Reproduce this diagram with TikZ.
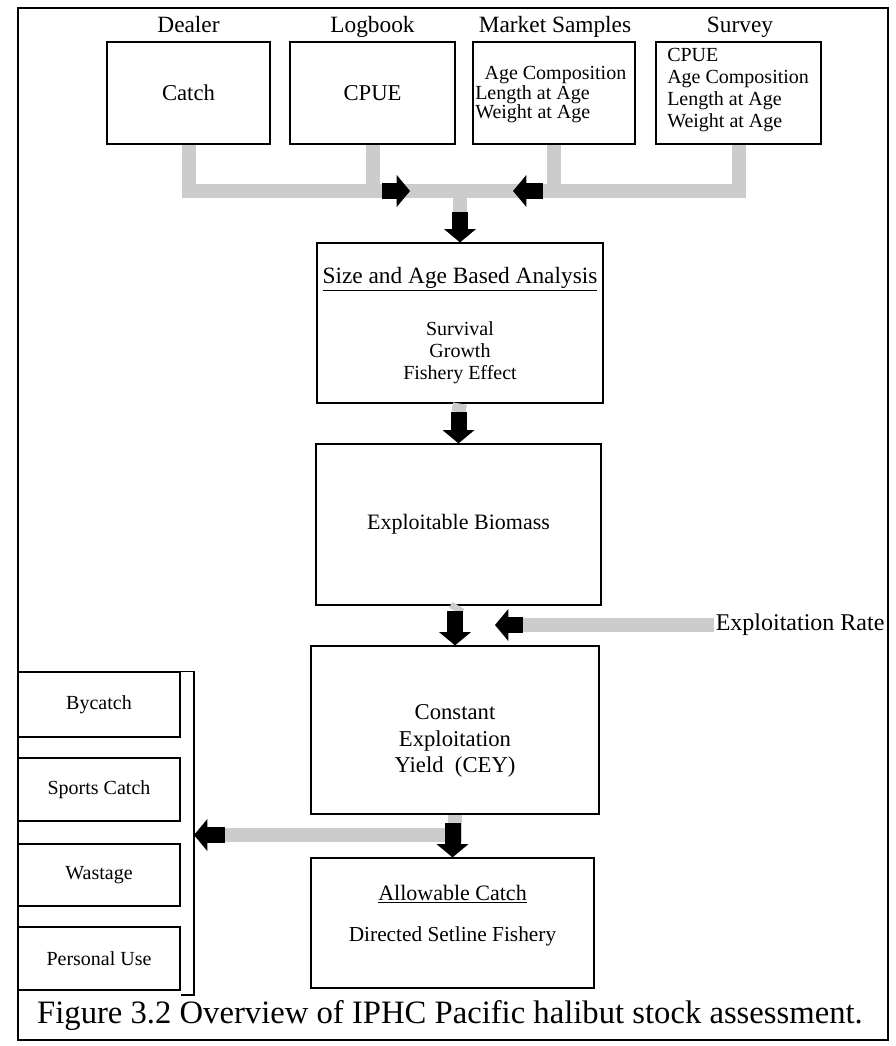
\documentclass[tikz,border=0pt]{standalone}
\usepackage{fontspec}
\setmainfont{Liberation Serif}
\usetikzlibrary{arrows.meta,calc}
% lengths given in drawing units (1 unit = 0.75pt)
\newcommand\pxu[1]{#1*0.75pt}
\newcommand\fsz[2]{\fontsize{#1}{#2}\selectfont}
\tikzset{
  box/.style={draw, line width=0.9pt, inner sep=0pt, align=center},
  lab/.style={inner sep=0pt, anchor=base},
  band/.style={draw=gray!40, line width=10.5pt},
  blockarrow/.style={line width=12pt, line cap=butt,
    -{Triangle[length=10pt,width=24pt,line width=0pt]}},
}
\begin{document}
\begin{tikzpicture}[x=0.75pt,y=-0.75pt]
\useasboundingbox (0,0) rectangle (896,1046);
% outer frame
\draw[line width=2pt] (18,8) rectangle (888,1040);

% data sources
\node[lab, font=\fsz{17.5}{20}] (tDealer) at (188.5,32) {Dealer};
\node[lab, font=\fsz{17.5}{20}] (tLog) at (372.5,32) {Logbook};
\node[lab, font=\fsz{17.5}{20}] (tMarket) at (555,32) {Market Samples};
\node[lab, font=\fsz{17.5}{20}] (tSurvey) at (740,32) {Survey};

\node[box, minimum width=\pxu{163}, minimum height=\pxu{102}, font=\fsz{17}{20}] (dealer) at (188.5,93) {Catch};
\node[box, minimum width=\pxu{165}, minimum height=\pxu{102}, font=\fsz{17}{20}] (logbook) at (372.5,93) {CPUE};
\node[box, minimum width=\pxu{162}, minimum height=\pxu{102}] (market) at (554,93) {};
\node[box, minimum width=\pxu{165}, minimum height=\pxu{102}] (survey) at (738.5,93) {};
\node[inner sep=0pt, anchor=west, align=left, font=\fsz{15}{12.5}] (marketTxt) at (475,95)
  {\hspace*{7pt}Age Composition\\Length at Age\\Weight at Age};
\node[inner sep=0pt, anchor=west, align=left, font=\fsz{15}{16.3}] (surveyTxt) at (667,90)
  {CPUE\\Age Composition\\Length at Age\\Weight at Age};

% central chain
\node[box, minimum width=\pxu{286}, minimum height=\pxu{160}] (size) at (460,323) {};
\node[lab, font=\fsz{17.5}{20}] (sizeT) at (460,283) {\underline{Size and Age Based Analysis}};
\node[align=center, inner sep=0pt, font=\fsz{15}{16.5}] (sizeB) at (460,353) {Survival\\Growth\\Fishery Effect};

\node[box, minimum width=\pxu{285}, minimum height=\pxu{161}, font=\fsz{16.5}{20}] (expl) at (458.5,524.5) {Exploitable Biomass};

\node[box, minimum width=\pxu{288}, minimum height=\pxu{168}] (cey) at (455,730) {};
\node[align=center, inner sep=0pt, font=\fsz{17}{20}] (ceyT) at (455,741) {Constant\\Exploitation\\Yield~~(CEY)};

\node[box, minimum width=\pxu{283}, minimum height=\pxu{130}] (allow) at (452.5,923) {};
\node[lab, font=\fsz{16.5}{20}] (allowT) at (452.5,900) {\underline{Allowable Catch}};
\node[lab, font=\fsz{16}{20}] (allowB) at (452.5,941) {Directed Setline Fishery};

\node[inner sep=1pt, anchor=east, font=\fsz{18}{20}] (rate) at (886,625) {Exploitation Rate};

% other removals
\node[box, minimum width=\pxu{162}, minimum height=\pxu{65}, font=\fsz{15}{16}] (bycatch) at (99,704.5) {Bycatch};
\node[box, minimum width=\pxu{162}, minimum height=\pxu{63}, font=\fsz{15}{16}] (sports) at (99,789.5) {Sports Catch};
\node[box, minimum width=\pxu{162}, minimum height=\pxu{62}, font=\fsz{15}{16}] (wastage) at (99,875) {Wastage};
\node[box, minimum width=\pxu{162}, minimum height=\pxu{63}, font=\fsz{15}{16}] (personal) at (99,958.5) {Personal Use};
\draw[line width=0.9pt] (bycatch.north east) -| (194,995) -- (personal.east |- 0,995);
\coordinate (brk) at (194,835);

% grey feed lines
\coordinate (hub) at (size.north |- 0,191);
\coordinate (a1s) at (382,191);
\coordinate (a1t) at (410,191);
\coordinate (a2s) at (543,191);
\coordinate (a2t) at (513,191);
\coordinate (a3s) at ($(size.north)+(0,-30)$);
\coordinate (a4s) at ($(expl.north)+(0,-31)$);
\coordinate (a5s) at ($(cey.north)+(0,-34)$);
\coordinate (a6s) at (523,625);
\coordinate (a6t) at (495,625);
\coordinate (a7s) at ($(allow.north)+(0,-34)$);
\coordinate (a8s) at (225,835);

\draw[band] (dealer.south) |- (hub);
\draw[band] (survey.south) |- (hub);
\draw[band] (logbook.south) -- (logbook.south |- hub);
\draw[band] (market.south) -- (market.south |- hub);
\draw[band] (hub) -- (a3s);
\draw[band] (size.south) -- (a4s);
\draw[band] (expl.south) -- (a5s);
\draw[band] (rate.west) -- (a6s);
\draw[band] (cey.south) |- (a8s);

% black block arrows
\draw[blockarrow] (a1s) -- (a1t);
\draw[blockarrow] (a2s) -- (a2t);
\draw[blockarrow] (a3s) -- (size.north);
\draw[blockarrow] (a4s) -- (expl.north);
\draw[blockarrow] (a5s) -- (cey.north);
\draw[blockarrow] (a6s) -- (a6t);
\draw[blockarrow] (a7s) -- (allow.north);
\draw[blockarrow] (a8s) -- (brk);

% caption
\node[lab, font=\fsz{24.5}{28}] (caption) at (450,1023) {Figure 3.2 Overview of IPHC Pacific halibut stock assessment.};
\end{tikzpicture}
\end{document}
